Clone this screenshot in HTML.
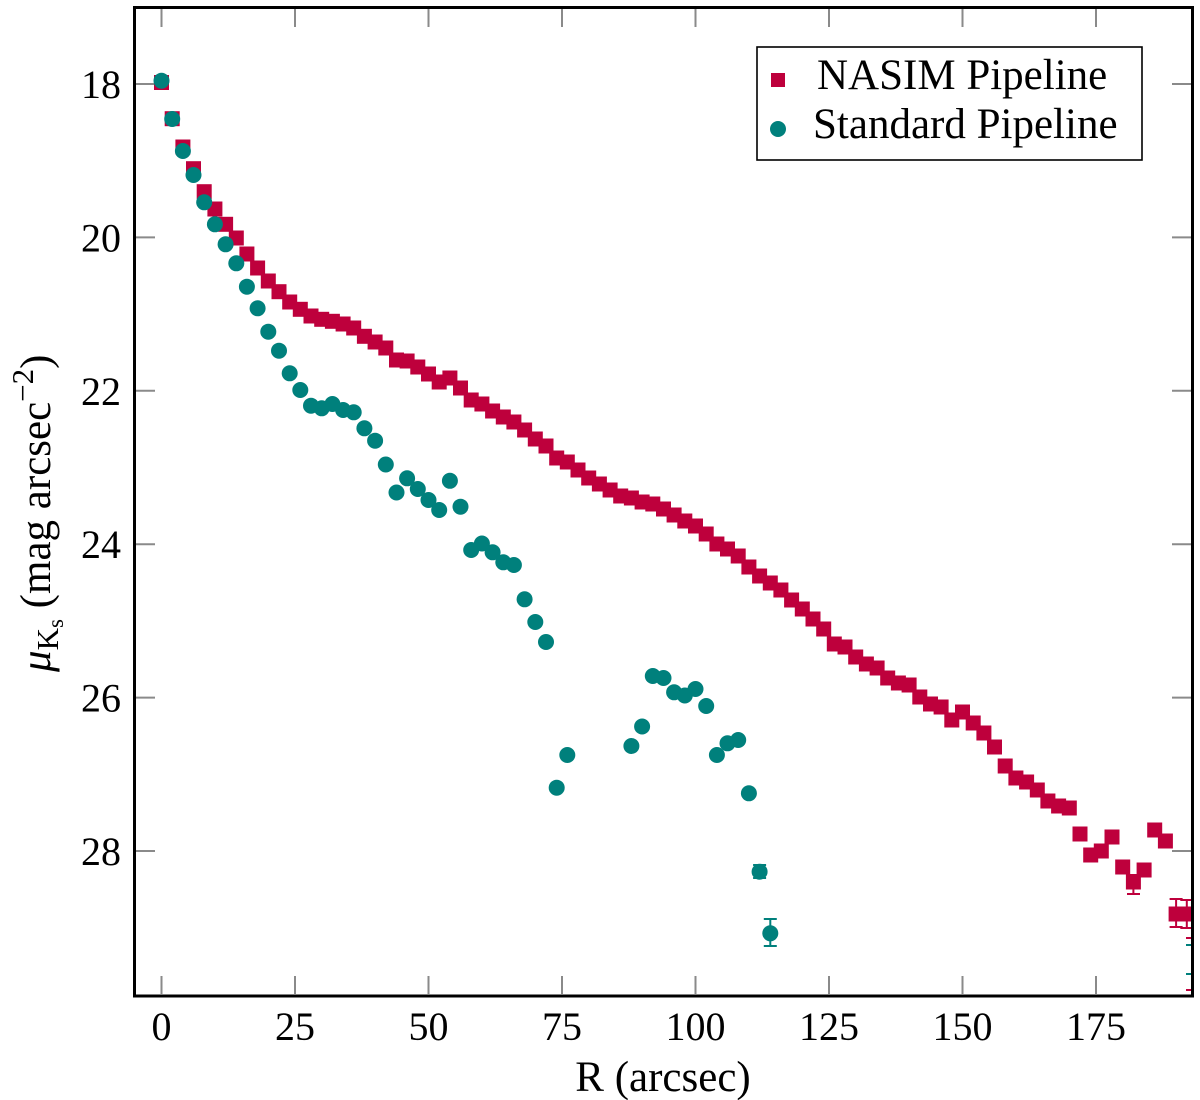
<!DOCTYPE html>
<html><head><meta charset="utf-8"><style>
html,body{margin:0;padding:0;background:#fff;}
svg{display:block;}
text{font-family:"Liberation Serif","DejaVu Serif",serif;fill:#000;}
</style></head><body>
<svg width="1200" height="1100" viewBox="0 0 1200 1100" xmlns="http://www.w3.org/2000/svg">
<defs>
<clipPath id="pa"><rect x="135" y="9" width="1056" height="985"/></clipPath>
</defs>
<rect x="0" y="0" width="1200" height="1100" fill="#fff"/>
<g stroke="#8a8a8a" stroke-width="2">
<line x1="161.5" y1="9" x2="161.5" y2="27"/><line x1="295" y1="9" x2="295" y2="27"/><line x1="428.5" y1="9" x2="428.5" y2="27"/><line x1="562" y1="9" x2="562" y2="27"/><line x1="695.5" y1="9" x2="695.5" y2="27"/><line x1="829" y1="9" x2="829" y2="27"/><line x1="962.5" y1="9" x2="962.5" y2="27"/><line x1="1096" y1="9" x2="1096" y2="27"/>
<line x1="161.5" y1="976" x2="161.5" y2="994"/><line x1="295" y1="976" x2="295" y2="994"/><line x1="428.5" y1="976" x2="428.5" y2="994"/><line x1="562" y1="976" x2="562" y2="994"/><line x1="695.5" y1="976" x2="695.5" y2="994"/><line x1="829" y1="976" x2="829" y2="994"/><line x1="962.5" y1="976" x2="962.5" y2="994"/><line x1="1096" y1="976" x2="1096" y2="994"/>
<line x1="135" y1="84" x2="155" y2="84"/><line x1="135" y1="237.4" x2="155" y2="237.4"/><line x1="135" y1="390.8" x2="155" y2="390.8"/><line x1="135" y1="544.2" x2="155" y2="544.2"/><line x1="135" y1="697.6" x2="155" y2="697.6"/><line x1="135" y1="851" x2="155" y2="851"/>
<line x1="1172" y1="84" x2="1191" y2="84"/><line x1="1172" y1="237.4" x2="1191" y2="237.4"/><line x1="1172" y1="390.8" x2="1191" y2="390.8"/><line x1="1172" y1="544.2" x2="1191" y2="544.2"/><line x1="1172" y1="697.6" x2="1191" y2="697.6"/><line x1="1172" y1="851" x2="1191" y2="851"/>
</g>
<g clip-path="url(#pa)">
<g fill="#be003c">
<rect x="154" y="75" width="15" height="15"/>
<rect x="164.7" y="111.2" width="15" height="15"/>
<rect x="175.4" y="139.5" width="15" height="15"/>
<rect x="186" y="161.2" width="15" height="15"/>
<rect x="196.7" y="184.2" width="15" height="15"/>
<rect x="207.4" y="201.5" width="15" height="15"/>
<rect x="218.1" y="216.8" width="15" height="15"/>
<rect x="228.8" y="230.5" width="15" height="15"/>
<rect x="239.4" y="246.5" width="15" height="15"/>
<rect x="250.1" y="260.5" width="15" height="15"/>
<rect x="260.8" y="273.5" width="15" height="15"/>
<rect x="271.5" y="284.2" width="15" height="15"/>
<rect x="282.2" y="294.5" width="15" height="15"/>
<rect x="292.8" y="301.8" width="15" height="15"/>
<rect x="303.5" y="308.5" width="15" height="15"/>
<rect x="314.2" y="311.8" width="15" height="15"/>
<rect x="324.9" y="313.8" width="15" height="15"/>
<rect x="335.6" y="316.5" width="15" height="15"/>
<rect x="346.2" y="320.5" width="15" height="15"/>
<rect x="356.9" y="328.8" width="15" height="15"/>
<rect x="367.6" y="334.5" width="15" height="15"/>
<rect x="378.3" y="340.5" width="15" height="15"/>
<rect x="389" y="352.5" width="15" height="15"/>
<rect x="399.6" y="353.5" width="15" height="15"/>
<rect x="410.3" y="359.5" width="15" height="15"/>
<rect x="421" y="366.5" width="15" height="15"/>
<rect x="431.7" y="374.5" width="15" height="15"/>
<rect x="442.4" y="370.5" width="15" height="15"/>
<rect x="453" y="380.5" width="15" height="15"/>
<rect x="463.7" y="392.5" width="15" height="15"/>
<rect x="474.4" y="396.5" width="15" height="15"/>
<rect x="485.1" y="403.5" width="15" height="15"/>
<rect x="495.8" y="409.5" width="15" height="15"/>
<rect x="506.4" y="414.5" width="15" height="15"/>
<rect x="517.1" y="422.5" width="15" height="15"/>
<rect x="527.8" y="431.5" width="15" height="15"/>
<rect x="538.5" y="438.5" width="15" height="15"/>
<rect x="549.2" y="450.5" width="15" height="15"/>
<rect x="559.8" y="454.5" width="15" height="15"/>
<rect x="570.5" y="462.5" width="15" height="15"/>
<rect x="581.2" y="470.5" width="15" height="15"/>
<rect x="591.9" y="476.5" width="15" height="15"/>
<rect x="602.6" y="482.5" width="15" height="15"/>
<rect x="613.2" y="488.5" width="15" height="15"/>
<rect x="623.9" y="490.5" width="15" height="15"/>
<rect x="634.6" y="494.5" width="15" height="15"/>
<rect x="645.3" y="496.5" width="15" height="15"/>
<rect x="656" y="501.5" width="15" height="15"/>
<rect x="666.6" y="507.5" width="15" height="15"/>
<rect x="677.3" y="513.5" width="15" height="15"/>
<rect x="688" y="518.5" width="15" height="15"/>
<rect x="698.7" y="526.5" width="15" height="15"/>
<rect x="709.4" y="536.5" width="15" height="15"/>
<rect x="720" y="541.5" width="15" height="15"/>
<rect x="730.7" y="548.5" width="15" height="15"/>
<rect x="741.4" y="559.5" width="15" height="15"/>
<rect x="752.1" y="568.5" width="15" height="15"/>
<rect x="762.8" y="575.5" width="15" height="15"/>
<rect x="773.4" y="582.5" width="15" height="15"/>
<rect x="784.1" y="592.5" width="15" height="15"/>
<rect x="794.8" y="601.5" width="15" height="15"/>
<rect x="805.5" y="611.5" width="15" height="15"/>
<rect x="816.2" y="621.5" width="15" height="15"/>
<rect x="826.8" y="636.5" width="15" height="15"/>
<rect x="837.5" y="639.5" width="15" height="15"/>
<rect x="848.2" y="649.5" width="15" height="15"/>
<rect x="858.9" y="656.5" width="15" height="15"/>
<rect x="869.6" y="660.5" width="15" height="15"/>
<rect x="880.2" y="670.5" width="15" height="15"/>
<rect x="890.9" y="675.5" width="15" height="15"/>
<rect x="901.6" y="677.5" width="15" height="15"/>
<rect x="912.3" y="689.5" width="15" height="15"/>
<rect x="923" y="696.5" width="15" height="15"/>
<rect x="933.6" y="699.5" width="15" height="15"/>
<rect x="944.3" y="712.5" width="15" height="15"/>
<rect x="955" y="704.5" width="15" height="15"/>
<rect x="965.7" y="715.5" width="15" height="15"/>
<rect x="976.4" y="725.5" width="15" height="15"/>
<rect x="987" y="739.5" width="15" height="15"/>
<rect x="997.7" y="758.5" width="15" height="15"/>
<rect x="1008.4" y="770.5" width="15" height="15"/>
<rect x="1019.1" y="774.5" width="15" height="15"/>
<rect x="1029.8" y="782.5" width="15" height="15"/>
<rect x="1040.4" y="793.5" width="15" height="15"/>
<rect x="1051.1" y="798.5" width="15" height="15"/>
<rect x="1061.8" y="800.5" width="15" height="15"/>
<rect x="1072.5" y="826.5" width="15" height="15"/>
<rect x="1083.2" y="847.5" width="15" height="15"/>
<rect x="1093.8" y="843.5" width="15" height="15"/>
<rect x="1104.5" y="829.5" width="15" height="15"/>
<rect x="1115.2" y="859.5" width="15" height="15"/>
<rect x="1125.9" y="874.5" width="15" height="15"/>
<rect x="1136.6" y="862.5" width="15" height="15"/>
<rect x="1147.2" y="822.5" width="15" height="15"/>
<rect x="1157.9" y="833.5" width="15" height="15"/>
<rect x="1168.6" y="906.5" width="15" height="15"/>
<rect x="1179.3" y="906.5" width="15" height="15"/>
</g>
<g stroke="#be003c" stroke-width="2" fill="none">
<line x1="1133.4" y1="875" x2="1133.4" y2="894"/><line x1="1127" y1="875" x2="1140" y2="875"/><line x1="1127" y1="894" x2="1140" y2="894"/>
<line x1="1176.1" y1="899" x2="1176.1" y2="927"/><line x1="1169.6" y1="899" x2="1182.6" y2="899"/><line x1="1169.6" y1="927" x2="1182.6" y2="927"/>
<line x1="1186.8" y1="900" x2="1186.8" y2="928"/><line x1="1180.3" y1="900" x2="1193.3" y2="900"/><line x1="1180.3" y1="928" x2="1193.3" y2="928"/>
<line x1="1186" y1="938" x2="1194" y2="938"/><line x1="1186" y1="990" x2="1194" y2="990"/>
</g>
<g fill="#00807c">
<circle cx="161.5" cy="80.7" r="8"/>
<circle cx="172.2" cy="119" r="8"/>
<circle cx="182.9" cy="151" r="8"/>
<circle cx="193.5" cy="175" r="8"/>
<circle cx="204.2" cy="202.3" r="8"/>
<circle cx="214.9" cy="224.3" r="8"/>
<circle cx="225.6" cy="244.3" r="8"/>
<circle cx="236.3" cy="263.3" r="8"/>
<circle cx="246.9" cy="286.7" r="8"/>
<circle cx="257.6" cy="308.3" r="8"/>
<circle cx="268.3" cy="331.7" r="8"/>
<circle cx="279" cy="350.7" r="8"/>
<circle cx="289.7" cy="373.3" r="8"/>
<circle cx="300.3" cy="390" r="8"/>
<circle cx="311" cy="405.7" r="8"/>
<circle cx="321.7" cy="408.3" r="8"/>
<circle cx="332.4" cy="404" r="8"/>
<circle cx="343.1" cy="410" r="8"/>
<circle cx="353.7" cy="412.3" r="8"/>
<circle cx="364.4" cy="428.3" r="8"/>
<circle cx="375.1" cy="440.7" r="8"/>
<circle cx="385.8" cy="464.5" r="8"/>
<circle cx="396.5" cy="492.5" r="8"/>
<circle cx="407.1" cy="478.3" r="8"/>
<circle cx="417.8" cy="489" r="8"/>
<circle cx="428.5" cy="500" r="8"/>
<circle cx="439.2" cy="510" r="8"/>
<circle cx="449.9" cy="480.8" r="8"/>
<circle cx="460.5" cy="506.7" r="8"/>
<circle cx="471.2" cy="550" r="8"/>
<circle cx="481.9" cy="543.5" r="8"/>
<circle cx="492.6" cy="552.3" r="8"/>
<circle cx="503.3" cy="562.3" r="8"/>
<circle cx="513.9" cy="565" r="8"/>
<circle cx="524.6" cy="599.3" r="8"/>
<circle cx="535.3" cy="622" r="8"/>
<circle cx="546" cy="642" r="8"/>
<circle cx="556.7" cy="787.7" r="8"/>
<circle cx="567.3" cy="755" r="8"/>
<circle cx="631.4" cy="746" r="8"/>
<circle cx="642.1" cy="726.5" r="8"/>
<circle cx="652.8" cy="676" r="8"/>
<circle cx="663.5" cy="678" r="8"/>
<circle cx="674.1" cy="692.3" r="8"/>
<circle cx="684.8" cy="695.5" r="8"/>
<circle cx="695.5" cy="689" r="8"/>
<circle cx="706.2" cy="706" r="8"/>
<circle cx="716.9" cy="755" r="8"/>
<circle cx="727.5" cy="743.3" r="8"/>
<circle cx="738.2" cy="740" r="8"/>
<circle cx="748.9" cy="793.3" r="8"/>
<circle cx="759.6" cy="871.7" r="8"/>
<circle cx="770.3" cy="933.3" r="8"/>
</g>
<g stroke="#00807c" stroke-width="2" fill="none">
<line x1="759.6" y1="865" x2="759.6" y2="878"/><line x1="753.1" y1="865" x2="766.1" y2="865"/><line x1="753.1" y1="878" x2="766.1" y2="878"/>
<line x1="770.3" y1="919" x2="770.3" y2="946"/><line x1="763.8" y1="919" x2="776.8" y2="919"/><line x1="763.8" y1="946" x2="776.8" y2="946"/>
<line x1="1186" y1="945" x2="1194" y2="945"/><line x1="1186" y1="974" x2="1194" y2="974"/>
</g>
</g>
<rect x="134.5" y="7.5" width="1058" height="988.5" fill="none" stroke="#000" stroke-width="3"/>
<rect x="757" y="47" width="385" height="113" fill="#fff" stroke="#000" stroke-width="1.6"/>
<rect x="771" y="73" width="14" height="14" fill="#be003c"/>
<circle cx="778" cy="129" r="8" fill="#00807c"/>
<text x="817" y="89" font-size="43">NASIM Pipeline</text>
<text x="813" y="138" font-size="43">Standard Pipeline</text>
<g font-size="40" text-anchor="end">
<text x="121" y="98">18</text>
<text x="121" y="251.4">20</text>
<text x="121" y="404.8">22</text>
<text x="121" y="558.2">24</text>
<text x="121" y="711.6">26</text>
<text x="121" y="865">28</text>
</g>
<g font-size="40" text-anchor="middle">
<text x="161.5" y="1040">0</text>
<text x="295" y="1040">25</text>
<text x="428.5" y="1040">50</text>
<text x="562" y="1040">75</text>
<text x="695.5" y="1040">100</text>
<text x="829" y="1040">125</text>
<text x="962.5" y="1040">150</text>
<text x="1096" y="1040">175</text>
</g>
<text x="663" y="1091" font-size="43" text-anchor="middle">R (arcsec)</text>
<g transform="translate(50,672) rotate(-90)">
<text x="0" y="0" font-size="43"><tspan font-style="italic">μ</tspan><tspan font-size="31" dy="8">K</tspan><tspan font-size="23" dy="5">s</tspan><tspan dy="-13"> (mag arcsec</tspan><tspan font-size="31" dy="-17">−2</tspan><tspan dy="17">)</tspan></text>
</g>
</svg>
</body></html>
